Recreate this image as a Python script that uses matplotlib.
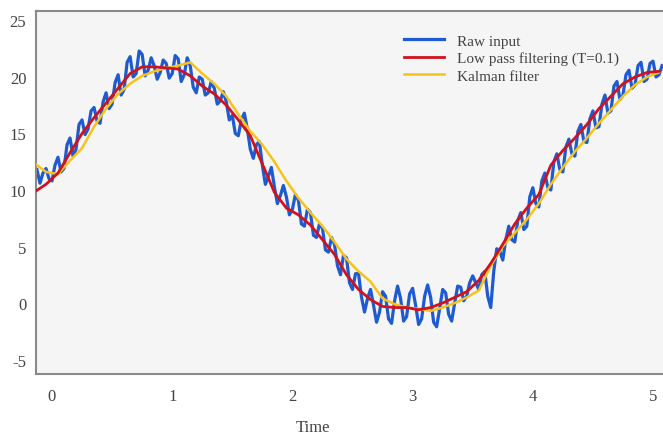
import numpy as np
import matplotlib.pyplot as plt

# sampled signals (time step given below)
raw_t0, raw_dt = -0.125, 0.025
raw_input = [
    11.8, 10.6, 11.5, 11.9, 11.0, 10.8, 12.2, 12.9, 11.6, 11.9,
    14.0, 14.6, 13.0, 13.6, 15.8, 16.2, 14.9, 15.4, 17.0, 17.3,
    16.1, 15.9, 17.8, 18.6, 17.2, 17.6, 19.5, 20.2, 18.4, 18.9,
    21.3, 21.8, 20.0, 20.3, 22.3, 22.0, 20.1, 20.6, 21.7, 21.0,
    19.8, 20.4, 21.5, 21.2, 19.9, 20.3, 21.9, 21.6, 19.6, 20.2,
    21.7, 21.0, 19.1, 18.6, 20.0, 19.8, 18.4, 18.6, 19.6, 19.0,
    17.6, 17.9, 18.7, 17.8, 16.2, 16.6, 15.0, 14.8, 16.2, 16.8,
    15.4, 13.6, 12.8, 14.0, 14.3, 12.2, 10.5, 11.2, 12.0, 10.3,
    8.8, 9.5, 10.4, 9.4, 7.8, 8.3, 9.6, 9.1, 7.0, 6.8,
    8.3, 8.0, 6.0, 5.8, 7.0, 6.6, 4.7, 4.5, 5.8, 5.2,
    3.3, 2.5, 4.2, 4.0, 1.8, 1.2, 2.6, 2.6, 0.5, -0.8,
    0.4, 1.2, -0.2, -1.7, -0.8, 1.0, 0.6, -1.4, -1.8, 0.2,
    1.5, 0.4, -1.6, -1.2, 0.8, 1.3, -0.2, -1.9, -1.4, 0.6,
    1.6, 0.5, -1.7, -2.1, -0.5, 1.2, 0.9, -1.0, -1.6, 0.0,
    1.5, 1.4, 0.2, 0.6, 1.8, 2.4, 1.8, 1.2, 2.5, 2.8,
    0.6, -0.4, 2.8, 4.8, 4.6, 3.8, 5.6, 6.8, 5.6, 5.4,
    7.3, 8.0, 6.5, 6.8, 9.4, 10.2, 8.8, 8.5, 10.8, 11.5,
    10.2, 10.0, 12.5, 13.2, 11.8, 11.6, 13.8, 14.5, 13.2, 13.0,
    15.2, 15.8, 14.3, 14.2, 16.3, 17.0, 15.5, 15.6, 17.6, 18.4,
    16.8, 17.0, 19.2, 19.6, 18.0, 18.4, 20.2, 20.6, 19.0, 19.3,
    21.0, 21.3, 19.6, 19.8, 21.2, 21.4, 20.0, 20.2, 21.0,
]

filt_t0, filt_dt = -0.15, 0.1
low_pass = [
    9.8, 10.5, 11.5, 13.3, 15.0, 16.4, 17.7, 19.0, 20.3, 20.9,
    20.9, 20.8, 20.7, 20.1, 19.2, 18.5, 17.5, 16.2, 14.8, 12.3,
    9.8, 8.4, 7.8, 6.9, 5.6, 4.3, 2.5, 1.2, 0.3, -0.3,
    -0.4, -0.4, -0.6, -0.4, 0.0, 0.5, 1.0, 2.0, 3.5, 5.2,
    7.0, 8.4, 9.6, 12.2, 13.5, 14.6, 15.8, 17.2, 18.3, 19.4,
    20.0, 20.4, 20.5,
]
kalman = [
    12.4, 11.6, 11.4, 12.6, 13.7, 15.6, 17.2, 18.5, 19.4, 20.1,
    20.5, 20.8, 21.0, 21.3, 20.3, 19.4, 18.3, 16.7, 15.2, 14.0,
    12.5, 10.8, 9.3, 8.0, 6.8, 5.4, 3.9, 2.8, 1.9, 0.4,
    -0.1, -0.4, -0.5, -0.7, -0.4, 0.0, 0.5, 1.1, 3.3, 5.0,
    6.2, 7.4, 8.8, 10.5, 12.0, 13.4, 14.6, 15.9, 17.1, 18.3,
    19.3, 20.0, 20.4,
]

x_ticks = [0, 1, 2, 3, 4, 5]
y_ticks = [-5, 0, 5, 10, 15, 20, 25]

t_raw = raw_t0 + raw_dt * np.arange(len(raw_input))
t_filt = filt_t0 + filt_dt * np.arange(len(low_pass))

plt.rcParams['font.family'] = 'Liberation Serif'
plt.rcParams['axes.unicode_minus'] = False

fig = plt.figure(figsize=(6.63, 4.39), dpi=100)
ax = fig.add_axes([0.0543, 0.1458, 0.9457, 0.8269])
ax.set_facecolor('#f5f5f5')

ax.plot(t_raw, raw_input, color='#1f5bd0', lw=2.3, label='Raw input', zorder=2)
ax.plot(t_filt, low_pass, color='#d0121e', lw=2.0, label='Low pass filtering (T=0.1)', zorder=4)
ax.plot(t_filt, kalman, color='#f7c21a', lw=1.8, label='Kalman filter', zorder=3)

ax.set_xlim(-0.133, 5.083)
ax.set_ylim(-6.28, 25.84)
ax.set_xticks(x_ticks)
ax.set_yticks(y_ticks)
ax.tick_params(length=0, labelsize=12, colors='#444444')
ax.tick_params(axis='x', pad=10)
ax.tick_params(axis='y', pad=7)

for side in ['left', 'bottom', 'top']:
    ax.spines[side].set_color('#8a8a8a')
    ax.spines[side].set_linewidth(1.5)
ax.spines['right'].set_visible(False)

ax.set_xlabel('Time', fontsize=12, color='#444444')
ax.xaxis.set_label_coords(0.442, -0.125)

leg = ax.legend(loc='upper left', bbox_to_anchor=(0.565, 0.975), frameon=False,
                fontsize=11, handlelength=2.6, labelspacing=0.25, handletextpad=0.9)
for txt in leg.get_texts():
    txt.set_color('#444444')

fig.savefig('out.png', dpi=100)
